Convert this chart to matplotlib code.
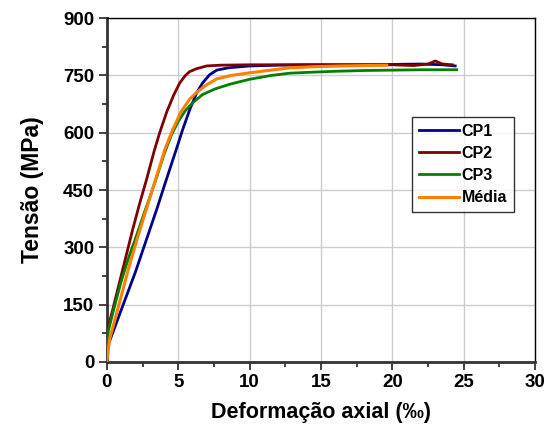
import matplotlib
matplotlib.use("Agg")
import matplotlib.pyplot as plt
from matplotlib.ticker import MultipleLocator

plt.rcParams['font.family'] = ['Liberation Sans', 'DejaVu Sans']
plt.rcParams['font.weight'] = 'bold'

# CP1 (blue)
cp1_x = [0.0, 0.05, 0.5, 1.0, 1.5, 2.0, 2.5, 3.0, 3.5, 4.0, 4.5, 5.0, 5.3, 5.8, 6.3, 6.7, 7.2, 7.7,
         8.5, 10.0, 12.0, 14.0, 16.0, 18.0, 20.0, 22.0, 23.5, 24.4]
cp1_y = [0, 40, 85, 135, 185, 235, 290, 345, 400, 458, 515, 572, 607, 660, 705, 730, 752, 764,
         770, 775, 777, 778, 778, 778, 779, 780, 778, 775]

# CP2 (dark red)
cp2_x = [0.0, 0.02, 0.3, 0.8, 1.3, 1.8, 2.3, 2.8, 3.3, 3.7, 4.2, 4.7, 5.1, 5.5, 5.8, 6.3, 7.0, 8.0,
         10.0, 12.0, 14.0, 16.0, 18.0, 20.0, 21.5, 22.5, 23.0, 23.5, 24.2]
cp2_y = [0, 80, 120, 195, 270, 345, 415, 480, 550, 600, 655, 700, 730, 750, 760, 768, 775, 777,
         778, 778, 778, 778, 778, 778, 776, 780, 788, 780, 778]

# CP3 (green)
cp3_x = [0.0, 0.1, 0.5, 1.0, 1.5, 2.0, 2.5, 3.0, 3.5, 4.0, 4.5, 5.0, 5.5, 6.0, 6.7, 7.6, 8.6, 10.0,
         11.5, 12.8, 14.0, 16.0, 18.0, 20.0, 22.0, 24.5]
cp3_y = [0, 80, 140, 210, 270, 322, 377, 430, 485, 543, 592, 630, 658, 678, 700, 715, 727, 740,
         750, 756, 758, 761, 763, 764, 765, 765]

# Média (orange)
med_x = [0.0, 0.2, 0.6, 1.1, 1.6, 2.1, 2.6, 3.1, 3.6, 4.1, 4.6, 5.2, 5.8, 6.3, 7.0, 7.7, 8.7,
         10.0, 11.5, 12.8, 14.5, 16.5, 18.0, 19.6]
med_y = [0, 60, 115, 185, 255, 319, 380, 440, 500, 560, 607, 655, 688, 706, 726, 741, 750,
         757, 764, 770, 773, 775, 776, 777]

labels = ['CP1', 'CP2', 'CP3', 'Média']
colors = ['#00008B', '#800000', '#008000', '#FF8000']

x_ticks = [0, 5, 10, 15, 20, 25, 30]
y_ticks = [0, 150, 300, 450, 600, 750, 900]

fig = plt.figure(figsize=(5.45, 4.44), dpi=100)
ax = fig.add_axes([0.196, 0.185, 0.786, 0.774])

series = [(cp1_x, cp1_y), (cp2_x, cp2_y), (cp3_x, cp3_y), (med_x, med_y)]
for (xs, ys), lab, col in zip(series, labels, colors):
    if lab == 'Média':
        ax.plot(xs, ys, color=col, lw=2.2, label=lab, zorder=4)
    else:
        ax.plot(xs, ys, color=col, lw=2.0, label=lab, zorder=3)

ax.set_xlim(0, 30)
ax.set_ylim(0, 900)
ax.set_xticks(x_ticks)
ax.set_yticks(y_ticks)
ax.xaxis.set_minor_locator(MultipleLocator(2.5))
ax.yaxis.set_minor_locator(MultipleLocator(75))
ax.grid(True, which='major', color='#cccccc', lw=1.0, zorder=0)
ax.set_axisbelow(True)

ax.tick_params(which='both', direction='out', top=False, right=False, labelsize=13.5, width=1.3,
               color='#333333', pad=3)
ax.tick_params(which='major', length=6)
ax.tick_params(which='minor', length=3.5)
for t in ax.get_xticklabels() + ax.get_yticklabels():
    t.set_fontweight('bold')

for s in ['left', 'bottom']:
    ax.spines[s].set_linewidth(2.0)
    ax.spines[s].set_color('#333333')
for s in ['top', 'right']:
    ax.spines[s].set_linewidth(1.0)
    ax.spines[s].set_color('black')

ax.set_xlabel('Deformação axial (‰)', fontsize=15.5, fontweight='bold', labelpad=8)
ax.set_ylabel('Tensão (MPa)', fontsize=16.5, fontweight='bold', labelpad=14)

leg = ax.legend(loc='upper left', bbox_to_anchor=(0.713, 0.712), fontsize=11.5, frameon=True,
                fancybox=False, edgecolor='black', handlelength=2.5, handletextpad=0.2,
                borderpad=0.4, labelspacing=0.45, borderaxespad=0)
leg.get_frame().set_linewidth(1.0)
for t in leg.get_texts():
    t.set_fontweight('bold')

fig.savefig('out.png', dpi=100)
